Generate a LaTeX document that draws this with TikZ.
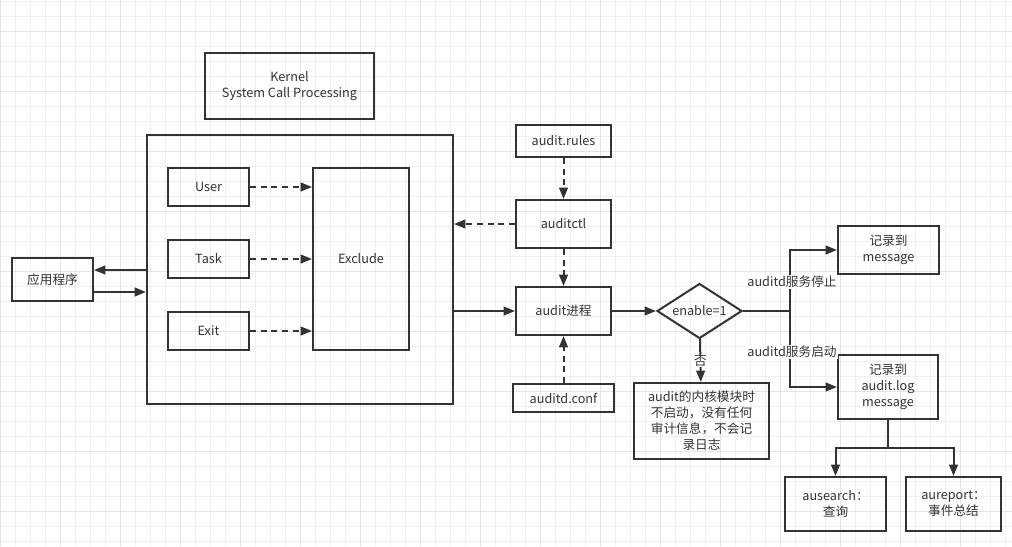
\documentclass[tikz,border=0pt]{standalone}
\usepackage{fontspec}
\setmainfont{Noto Sans CJK SC}
\usetikzlibrary{shapes.geometric,arrows.meta}
\definecolor{ink}{HTML}{333333}
\definecolor{gridmin}{HTML}{EFEFEF}
\definecolor{gridmaj}{HTML}{E3E3E3}
\begin{document}
\begin{tikzpicture}[
    x=.75pt, y=-.75pt,
    every node/.style={font=\fontsize{9.5}{12}\selectfont, text=ink},
    box/.style={draw=ink, line width=1.5pt, align=center, inner sep=0pt},
    link/.style={draw=ink, line width=1.5pt},
    arr/.style={link, -{Triangle[length=8.5pt,width=6.5pt]}},
    dasharr/.style={arr, dash pattern=on 4.5pt off 3.5pt},
    tag/.style={fill=white, inner sep=1pt}]
    \useasboundingbox (0,0) rectangle (1012,546);
    \fill[white] (0,0) rectangle (1012,546);
    \foreach \gx in {0,15,...,1005} \draw[gridmin, line width=.75pt] (\gx,0) -- (\gx,546);
    \foreach \gy in {1,16,...,541} \draw[gridmin, line width=.75pt] (0,\gy) -- (1012,\gy);
    \foreach \gx in {0,60,...,960} \draw[gridmaj, line width=.75pt] (\gx,0) -- (\gx,546);
    \foreach \gy in {31,91,...,511} \draw[gridmaj, line width=.75pt] (0,\gy) -- (1012,\gy);

    \node[box, minimum width=126.75pt, minimum height=49.5pt] (kernel) at (289.5,86) {Kernel\\System Call Processing};
    \node[box, minimum width=229.5pt, minimum height=201.75pt] (kbox) at (300,269.5) {};
    \node[box, minimum width=60.75pt, minimum height=28.5pt] (user) at (208.5,187) {User};
    \node[box, minimum width=60.75pt, minimum height=28.5pt] (task) at (208.5,259) {Task};
    \node[box, minimum width=60.75pt, minimum height=28.5pt] (exit) at (208.5,331) {Exit};
    \node[box, minimum width=72pt, minimum height=136.5pt] (exclude) at (361,259) {Exclude};
    \node[box, minimum width=60.75pt, minimum height=32.25pt] (app) at (52.5,279.5) {应用程序};

    \node[box, minimum width=71.25pt, minimum height=24pt] (rules) at (563.5,141) {audit.rules};
    \node[box, minimum width=71.25pt, minimum height=36pt] (ctl) at (563.5,224) {auditctl};
    \node[box, minimum width=71.25pt, minimum height=36pt] (proc) at (563.5,311) {audit进程};
    \node[box, minimum width=75.75pt, minimum height=21pt] (conf) at (563.5,398) {auditd.conf};
    \node[draw=ink, line width=1.5pt, diamond, inner sep=0pt,
        minimum width=63.75pt, minimum height=41.25pt] (enable) at (699.5,311) {\makebox[0pt]{enable=1}};
    \node[box, minimum width=101.25pt, minimum height=57pt] (off) at (701.5,421)
        {audit的内核模块时\\不启动，没有任何\\审计信息，不会记\\录日志};

    \node[box, minimum width=75.75pt, minimum height=36pt] (msg) at (888.5,250) {记录到\\message};
    \node[box, minimum width=75pt, minimum height=48pt] (log) at (888,387) {记录到\\audit.log\\message};
    \node[box, minimum width=75.75pt, minimum height=40.5pt] (search) at (835.5,504) {ausearch：\\查询};
    \node[box, minimum width=71.25pt, minimum height=40.5pt] (report) at (953.5,504) {aureport：\\事件总结};

    \coordinate (appout) at ([yshift=7.125pt]app.east);
    \coordinate (appin) at ([yshift=-9.375pt]app.east);
    \draw[arr] (appout -| kbox.west) -- (appout);
    \draw[arr] (appin) -- (appin -| kbox.west);
    \draw[dasharr] (user) -- (user -| exclude.west);
    \draw[dasharr] (task) -- (task -| exclude.west);
    \draw[dasharr] (exit) -- (exit -| exclude.west);

    \draw[dasharr] (rules) -- (ctl);
    \draw[dasharr] (ctl) -- (ctl -| kbox.east);
    \draw[dasharr] (ctl) -- (proc);
    \draw[dasharr] (conf) -- (proc);
    \draw[arr] (proc -| kbox.east) -- (proc);
    \draw[arr] (proc) -- (enable);
    \draw[arr] (enable) -- node[tag, inner sep=0.5pt, yshift=-0.5pt] (no) {否} (off);

    \coordinate (split) at (790,311);
    \draw[link] (enable.east) -- (split);
    \draw[arr] (split) |- (msg.west);
    \draw[arr] (split) |- (log.west);
    \node[tag] (stop) at (792,282) {auditd服务停止};
    \node[tag] (start) at (792,352) {auditd服务启动};

    \coordinate (fork) at (888,448);
    \draw[link] (log) -- (fork);
    \draw[arr] (fork) -| (search.north);
    \draw[arr] (fork) -| (report.north);
\end{tikzpicture}
\end{document}
